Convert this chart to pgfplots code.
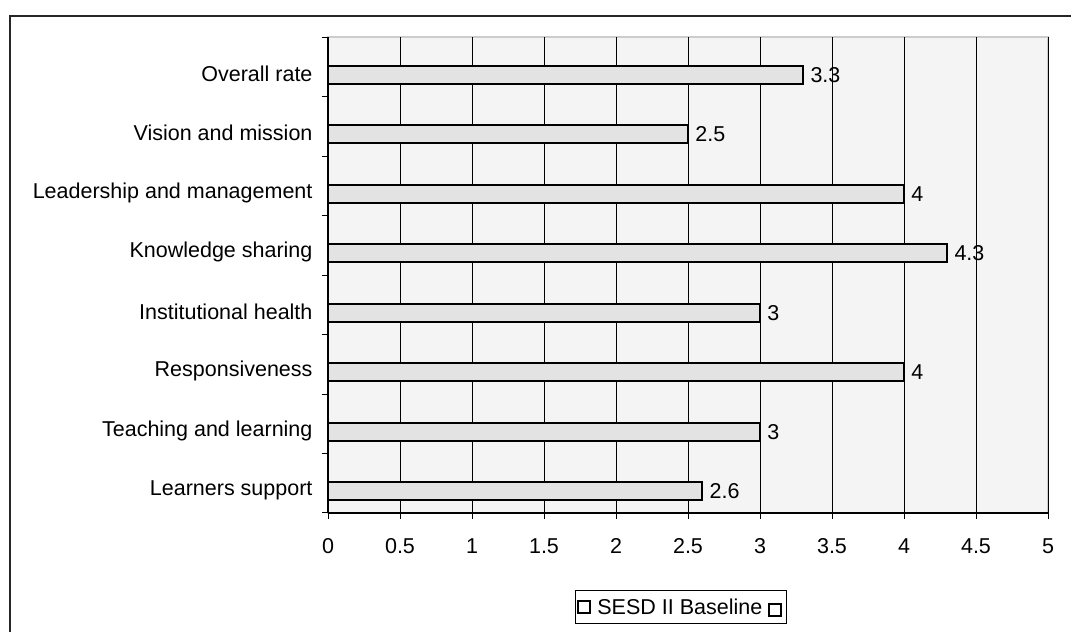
\documentclass[border=0pt]{standalone}
\usepackage{pgfplots}
\pgfplotsset{compat=1.18}
\usepackage{fontspec}
\setmainfont{Liberation Sans}
\newcommand{\bigf}{\fontsize{21.5}{25}\selectfont}
\begin{document}
\begin{tikzpicture}[x=1pt,y=1pt]
\useasboundingbox (0,0) rectangle (1071,632);
\draw[black!85, line width=1.5pt] (10,0) -- (10,616) -- (1071,616);
\begin{axis}[
  at={(328pt,119pt)}, anchor=south west,
  scale only axis, width=720pt, height=476pt,
  xbar, bar width=18pt, bar shift=-8pt,
  xmin=0, xmax=5, ymin=0.5, ymax=8.5,
  axis x line*=bottom, axis y line*=left,
  xtick={0,0.5,1,1.5,2,2.5,3,3.5,4,4.5,5},
  ytick={1,2,3,4,5,6,7,8},
  minor ytick={0.5,1.5,2.5,3.5,4.5,5.5,6.5,7.5,8.5},
  yticklabels={Learners support, Teaching and learning, Responsiveness, Institutional health, Knowledge sharing, Leadership and management, Vision and mission, Overall rate},
  /pgf/number format/assume math mode=true,
  tick label style={font=\bigf, text=black},
  tick align=outside,
  major x tick style={black, line width=1pt},
  major tick length=6pt,
  minor tick length=6pt,
  ytick style={draw=none},
  minor y tick style={draw=black, line width=1pt},
  yticklabel style={xshift=-6pt, yshift=-7pt},
  xticklabel style={yshift=-16pt},
  xmajorgrids, major grid style={black, line width=1pt},
  axis background/.style={fill=gray!9, draw=gray!40, line width=1.5pt},
  axis line style={black, line width=1.2pt, -},
  nodes near coords,
  nodes near coords style={font=\bigf, anchor=west, xshift=3pt},
  legend style={at={(axis description cs:0.343,-0.162)}, anchor=north west,
    draw=black, line width=0.8pt, fill=white, font=\bigf, inner xsep=2pt, inner ysep=6pt},
  legend image code/.code={\draw[black, line width=2pt, fill=white] (0pt,-6pt) rectangle (12pt,6pt);},
]
\addplot[fill=gray!22, draw=black, line width=2pt] coordinates {
  (2.6,1) (3,2) (4,3) (3,4) (4.3,5) (4,6) (2.5,7) (3.3,8)
};
\addlegendentry{\hspace{4pt}SESD II Baseline\ \raisebox{-1pt}{\setlength{\fboxsep}{0pt}\setlength{\fboxrule}{2pt}\fbox{\rule{0pt}{10pt}\hspace{10pt}}}\hspace{8pt}}
\end{axis}
\end{tikzpicture}
\end{document}
